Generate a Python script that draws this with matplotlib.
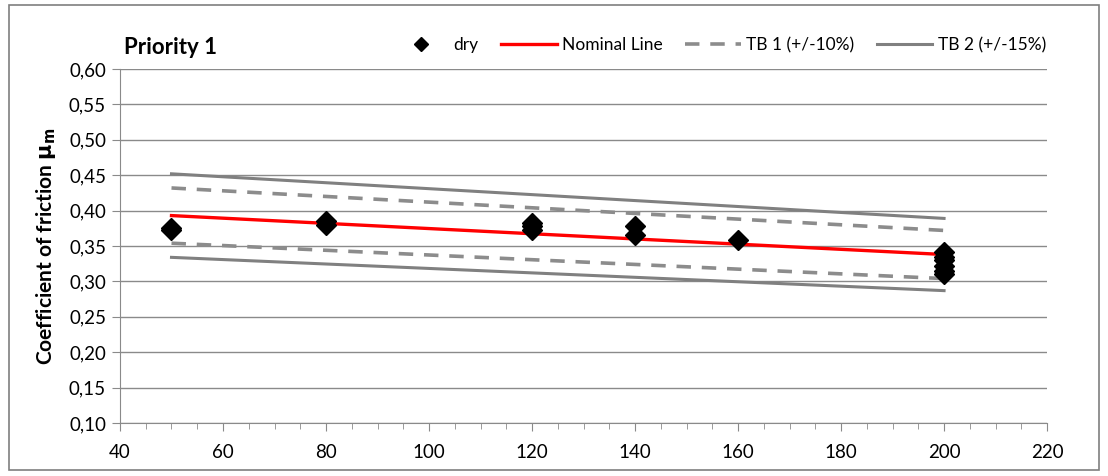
import numpy as np
import matplotlib.pyplot as plt
from matplotlib.ticker import MultipleLocator, FuncFormatter
from matplotlib.patches import Rectangle

plt.rcParams['font.family'] = ['Lato', 'DejaVu Sans']

# Measured points (speed vs. coefficient of friction)
dry_x = [50, 50, 80, 80, 120, 120, 120, 140, 140, 160,
         200, 200, 200, 200, 200, 200]
dry_y = [0.373, 0.376, 0.379, 0.385, 0.373, 0.378, 0.383, 0.365, 0.378, 0.359,
         0.341, 0.335, 0.330, 0.322, 0.315, 0.310]

# Nominal line and tolerance bands (end points)
line_x = [50, 200]
nominal = [0.393, 0.338]
tb1_upper = [0.432, 0.372]
tb1_lower = [0.354, 0.304]
tb2_upper = [0.452, 0.389]
tb2_lower = [0.334, 0.287]

fig = plt.figure(figsize=(11.08, 4.76), dpi=100)
ax = fig.add_axes([0.1083, 0.1113, 0.8367, 0.7437])

# outer frame of the chart
fig.patches.append(Rectangle((0.008, 0.012), 0.984, 0.977, transform=fig.transFigure,
                             fill=False, edgecolor='#7f7f7f', linewidth=1.2))

ax.plot(line_x, tb2_upper, color='#808080', lw=2.2, label='TB 2 (+/-15%)', zorder=2)
ax.plot(line_x, tb2_lower, color='#808080', lw=2.2, zorder=2)
ax.plot(line_x, tb1_upper, color='#8c8c8c', lw=2.6, ls=(0, (4, 3)), label='TB 1 (+/-10%)', zorder=2)
ax.plot(line_x, tb1_lower, color='#8c8c8c', lw=2.6, ls=(0, (4, 3)), zorder=2)
ax.plot(line_x, nominal, color='#ff0000', lw=2.4, label='Nominal Line', zorder=3)
ax.plot(dry_x, dry_y, 'D', color='black', ms=10, ls='none', label='dry', zorder=4)

ax.set_xlim(40, 220)
ax.set_ylim(0.10, 0.60)
ax.xaxis.set_major_locator(MultipleLocator(20))
ax.xaxis.set_minor_locator(MultipleLocator(5))
ax.yaxis.set_major_locator(MultipleLocator(0.05))
ax.yaxis.set_major_formatter(FuncFormatter(lambda v, p: f'{v:.2f}'.replace('.', ',')))

ax.grid(axis='y', color='#8a8a8a', lw=1.0)
ax.set_axisbelow(True)
for s in ['top', 'right']:
    ax.spines[s].set_visible(False)
for s in ['left', 'bottom']:
    ax.spines[s].set_color('#8a8a8a')
ax.tick_params(axis='both', which='major', labelsize=13.5, color='#8a8a8a', length=6)
ax.tick_params(axis='x', which='minor', color='#8a8a8a', length=4)
ax.tick_params(axis='x', pad=9)
ax.tick_params(axis='y', pad=4)

ax.set_ylabel(r'Coefficient of friction $\mathbf{\mu_m}$', fontsize=15, fontweight='bold', labelpad=8)
fig.text(0.112, 0.90, 'Priority 1', fontsize=16, fontweight='bold', va='center')

h, l = ax.get_legend_handles_labels()
order = [3, 2, 1, 0]
fig.legend([h[i] for i in order], [l[i] for i in order], ncol=4, frameon=False,
           loc='center right', bbox_to_anchor=(0.958, 0.905), fontsize=12.5,
           handlelength=3.2, columnspacing=1.3, handletextpad=0.3, markerscale=0.75)

plt.savefig('out.png', dpi=100)
